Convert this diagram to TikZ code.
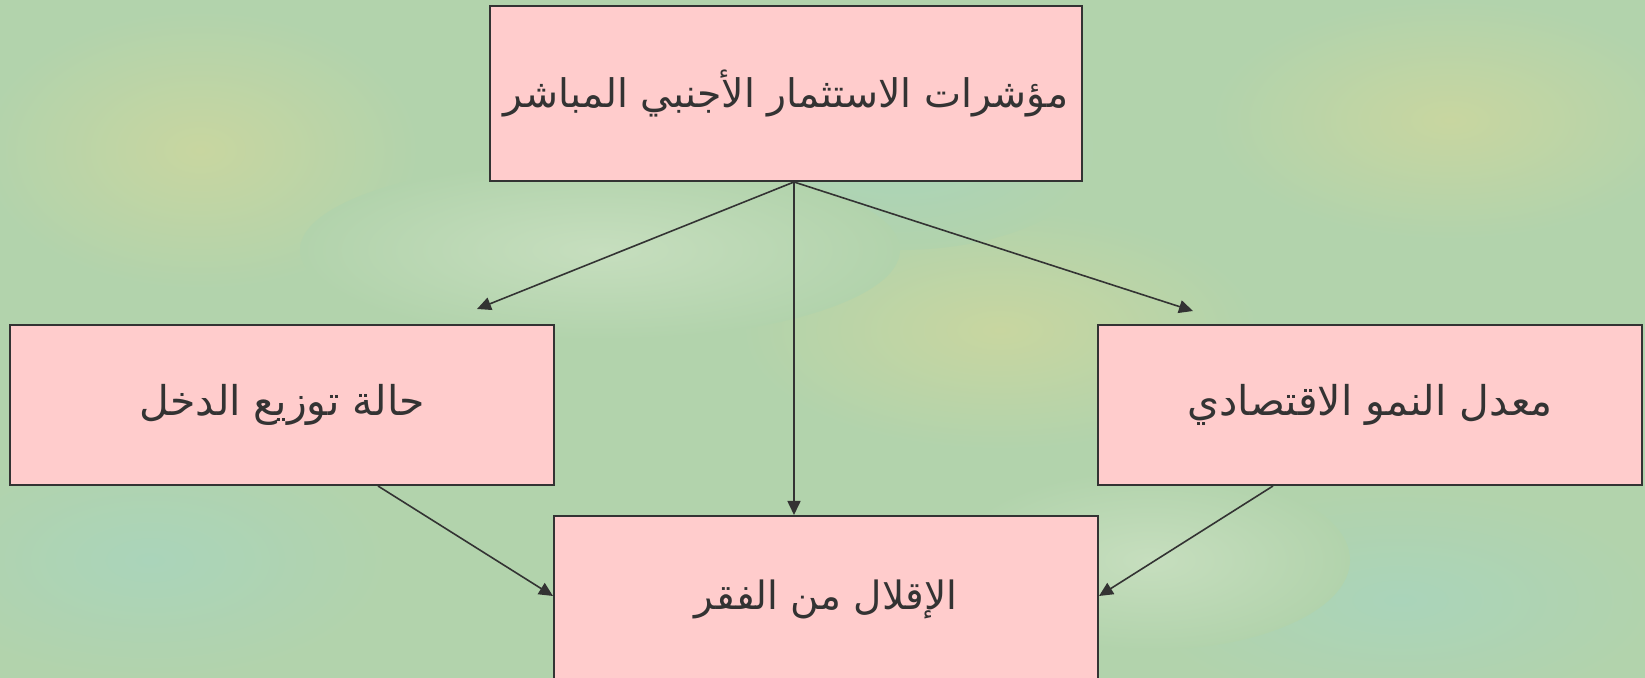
\documentclass[tikz,border=0pt]{standalone}
\usepackage{fontspec}
\usetikzlibrary{arrows.meta,calc}
\TeXXeTstate=1
\newfontfamily\arabicfont[Script=Arabic]{DejaVu Sans}
\definecolor{bgA}{RGB}{178,211,172}
\definecolor{bgB}{RGB}{200,214,160}
\definecolor{bgC}{RGB}{170,212,186}
\definecolor{bgD}{RGB}{198,222,190}
\definecolor{boxfill}{RGB}{255,204,204}
\definecolor{edge}{RGB}{51,51,51}
\tikzset{
  box/.style={draw=edge, line width=1pt, fill=boxfill, inner sep=0pt,
    font=\arabicfont\fontsize{20.5}{24}\selectfont, text=edge},
  conn/.style={draw=edge, line width=0.8pt, -{Triangle[length=7pt,width=6.5pt]}},
  blob/.style={outer color=bgA}
}
\begin{document}
\begin{tikzpicture}[x=0.5pt,y=-0.5pt]
\useasboundingbox (0,0) rectangle (1645,678);
\begin{scope}
\clip (0,0) rectangle (1645,678);
\fill[bgA] (0,0) rectangle (1645,678);
\shade[blob, inner color=bgB] (200,150) ellipse [x radius=220, y radius=140];
\shade[blob, inner color=bgB] (1000,330) ellipse [x radius=260, y radius=120];
\shade[blob, inner color=bgB] (1450,120) ellipse [x radius=240, y radius=120];
\shade[blob, inner color=bgC] (900,150) ellipse [x radius=200, y radius=100];
\shade[blob, inner color=bgC] (150,560) ellipse [x radius=240, y radius=120];
\shade[blob, inner color=bgC] (1400,600) ellipse [x radius=260, y radius=110];
\shade[blob, inner color=bgD] (600,250) ellipse [x radius=300, y radius=90];
\shade[blob, inner color=bgD] (1150,560) ellipse [x radius=200, y radius=90];

\node[box, minimum width=296pt, minimum height=87.5pt, font=\arabicfont\fontsize{19.7}{24}\selectfont] (top) at (786,93.5)
  {\beginR مؤشرات الاستثمار الأجنبي المباشر\endR};
\node[box, minimum width=272pt, minimum height=80pt] (lb) at (282,405)
  {\beginR حالة توزيع الدخل\endR};
\node[box, minimum width=272pt, minimum height=80pt] (rb) at (1370,405)
  {\beginR معدل النمو الاقتصادي\endR};
\node[box, minimum width=272pt, minimum height=83pt, font=\arabicfont\fontsize{19.5}{24}\selectfont] (bot) at (826,599)
  {\raisebox{2pt}{\beginR الإقلال من الفقر\endR}};

\coordinate (o) at ($(top.south)+(8,0)$);
\coordinate (la) at (477,309);
\coordinate (ra) at (1193,311);
\draw[conn] (o) -- (la);
\draw[conn] (o) -- (ra);
\draw[conn] (o) -- (o |- bot.north);
\draw[conn] ($(lb.south)+(96,0)$) -- ($(bot.west)+(0,-3)$);
\draw[conn] ($(rb.south)+(-97,0)$) -- ($(bot.east)+(0,-3)$);
\end{scope}
\end{tikzpicture}
\end{document}
